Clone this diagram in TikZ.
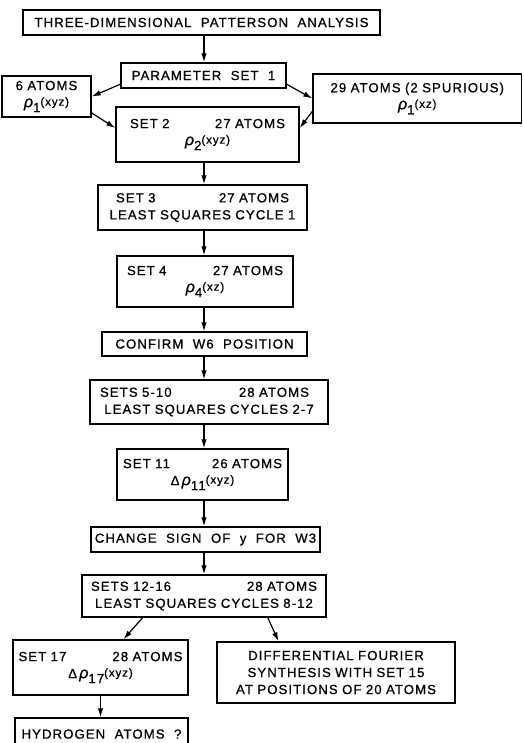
\documentclass[tikz,border=0pt]{standalone}
\usepackage{fontspec}
\setmainfont{Liberation Sans}[LetterSpace=8,WordSpace=2,FakeBold=0.8]
\usetikzlibrary{arrows.meta,calc}

\newcommand{\pairline}[3]{\makebox[#1pt]{#2\hfill #3}}
\newcommand{\rh}[2]{{\itshape\fontsize{16}{17}\selectfont ρ}\raisebox{-5pt}{#1}\raisebox{1.5pt}{\fontsize{11.5}{13}\selectfont(#2)}}

\begin{document}
\begin{tikzpicture}[x=1pt,y=1pt,>={Latex[length=9pt,width=5.5pt]},
 every node/.style={font=\fontsize{13.2}{17}\selectfont},
 box/.style={draw,line width=1.4pt,inner xsep=3pt,inner ysep=0pt,align=center}]
\useasboundingbox (0,0) rectangle (523,-743);
\clip (0,0) rectangle (523,-743);
\coordinate (spine) at (204,0);
\node[box,minimum width=357,minimum height=25] (pat) at (201.5,-22.5) {THREE-DIMENSIONAL PATTERSON ANALYSIS};
\node[box,minimum width=165,minimum height=25] (param) at (203.5,-75.5) {PARAMETER SET 1};
\node[box,text width=83,minimum height=41] (six) at (46.5,-96.5) {6 ATOMS\\ \rh{1}{xyz}};
\node[box,text width=202.5,minimum height=49] (spur) at (417.25,-98.5) {29 ATOMS (2 SPURIOUS)\\ \rh{1}{xz}};
\node[box,text width=177,minimum height=55] (set2) at (207.5,-134.5) {\pairline{155}{SET 2}{27 ATOMS}\\ \rh{2}{xyz}};
\node[box,text width=203,minimum height=45] (set3) at (202.5,-207.5) {\pairline{173}{SET 3}{27 ATOMS}\\ LEAST SQUARES CYCLE 1};
\node[box,text width=170,minimum height=51] (set4) at (205,-281.5) {\pairline{156}{SET 4}{27 ATOMS}\\ \rh{4}{xz}};
\node[box,minimum width=205,minimum height=24] (confirm) at (204.5,-344) {CONFIRM W6 POSITION};
\node[box,text width=232,minimum height=44] (s510) at (209,-402) {\pairline{218}{SETS 5-10}{28 ATOMS\hspace{9pt}}\\ LEAST SQUARES CYCLES 2-7};
\node[box,text width=165,minimum height=51] (set11) at (202.5,-474.5) {\pairline{159}{SET 11}{26 ATOMS}\\ Δ\,\rh{11}{xyz}};
\node[box,minimum width=229,minimum height=25] (sign) at (205.5,-539.5) {CHANGE SIGN OF y FOR W3};
\node[box,text width=238,minimum height=42] (s1216) at (204,-596) {\pairline{226}{SETS 12-16}{28 ATOMS}\\ LEAST SQUARES CYCLES 8-12};
\node[box,text width=169,minimum height=55] (set17) at (100.5,-667.5) {\pairline{164}{SET 17}{28 ATOMS}\\ Δ\,\rh{17}{xyz}};
\node[box,text width=232,minimum height=61] (fourier) at (336,-672.5) {DIFFERENTIAL FOURIER\\ SYNTHESIS WITH SET 15\\ AT POSITIONS OF 20 ATOMS};
\node[box,minimum width=173,minimum height=40] (hydro) at (101.5,-738) {\raisebox{8pt}{HYDROGEN ATOMS ?}};
% main chain
\foreach \a/\b in {pat/param,set2/set3,set3/set4,set4/confirm,confirm/s510,s510/set11,set11/sign,sign/s1216}
 \draw[->,line width=1.2pt] (\a.south -| spine) -- (\b.north -| spine);
% side branches
\draw[->,line width=1.2pt] (param.186) -- (six.east);
\draw[->,line width=1.2pt] (param.354) -- (spur.west);
\draw[->,line width=1.2pt] (six.-20) -- (set2.176);
\draw[->,line width=1.2pt] (spur.187) -- (set2.4);
\draw[->,line width=1.2pt] ($(s1216.south west)!.25!(s1216.south east)$) -- ($(set17.north west)!.63!(set17.north east)$);
\draw[->,line width=1.2pt] ($(s1216.south west)!.76!(s1216.south east)$) -- ($(fourier.north west)!.26!(fourier.north east)$);
\draw[->,line width=1.2pt] (set17.south) -- (set17.south |- hydro.north);
\end{tikzpicture}
\end{document}
